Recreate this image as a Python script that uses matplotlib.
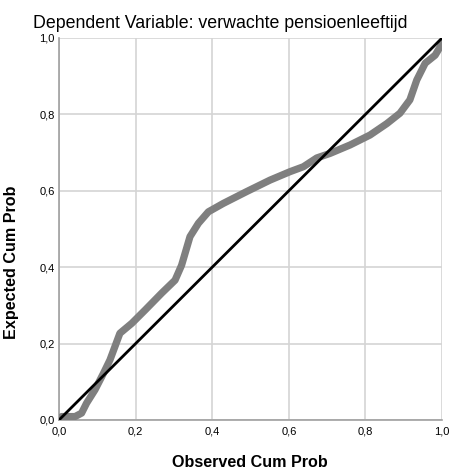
import matplotlib
matplotlib.use("Agg")
import matplotlib.pyplot as plt
import numpy as np

plt.rcParams['font.family'] = ['Liberation Sans', 'DejaVu Sans']

# observed vs expected cumulative probability
obs = [0.0, 0.007, 0.042, 0.059, 0.072, 0.094, 0.116, 0.133, 0.146, 0.159, 0.19,
       0.225, 0.268, 0.303, 0.32, 0.342, 0.364, 0.39, 0.429, 0.49, 0.551, 0.603,
       0.638, 0.673, 0.708, 0.76, 0.812, 0.856, 0.89, 0.916, 0.934, 0.956, 0.982,
       0.995, 1.0]
exp = [0.0, 0.009, 0.009, 0.018, 0.044, 0.079, 0.122, 0.157, 0.192, 0.227, 0.253,
       0.288, 0.332, 0.366, 0.405, 0.48, 0.515, 0.545, 0.567, 0.598, 0.628, 0.65,
       0.663, 0.686, 0.698, 0.72, 0.746, 0.776, 0.803, 0.838, 0.89, 0.934, 0.955,
       0.977, 0.99]
ticks = [0.0, 0.2, 0.4, 0.6, 0.8, 1.0]
tick_labels = ['0,0', '0,2', '0,4', '0,6', '0,8', '1,0']

fig = plt.figure(figsize=(4.52, 4.69), dpi=100)
ax = fig.add_axes([0.1305, 0.1045, 0.8475, 0.8145])

ax.plot(obs, exp, color='#7f7f7f', lw=5.2, solid_capstyle='round', solid_joinstyle='round', zorder=3)
ax.plot([0, 1], [0, 1], color='black', lw=2, zorder=4)

ax.set_xlim(0, 1)
ax.set_ylim(0, 1)
ax.set_xticks(ticks)
ax.set_yticks(ticks)
ax.set_xticklabels(tick_labels, fontsize=8)
ax.set_yticklabels(tick_labels, fontsize=8)
ax.tick_params(axis='x', length=0, pad=5)
ax.tick_params(axis='y', length=0, pad=3)
ax.grid(True, color='#d4d4d4', lw=1.2)
ax.set_axisbelow(True)
for s in ['top', 'right']:
    ax.spines[s].set_visible(False)
for s in ['left', 'bottom']:
    ax.spines[s].set_color('#a0a0a0')
    ax.spines[s].set_linewidth(1.2)

fig.text(220 / 452, 1 - 23 / 469, 'Dependent Variable: verwachte pensioenleeftijd',
         ha='center', va='center', fontsize=12.8)
fig.text(250 / 452, 1 - 462 / 469, 'Observed Cum Prob', ha='center', va='center',
         fontsize=11.6, fontweight='bold')
fig.text(12 / 452, 1 - 262 / 469, 'Expected Cum Prob', ha='center', va='center',
         fontsize=11.6, fontweight='bold', rotation=90)

fig.savefig('out.png', dpi=100)
